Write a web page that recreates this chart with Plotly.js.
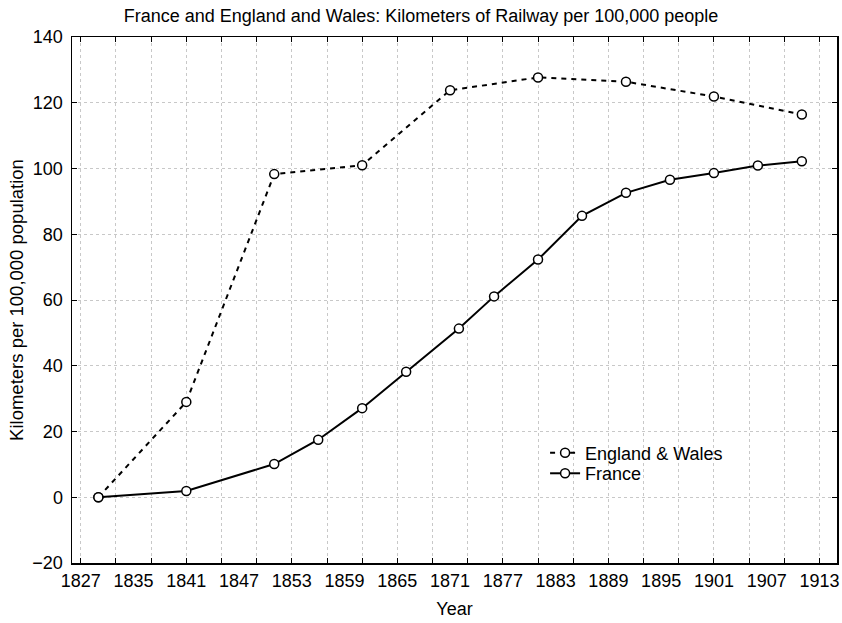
<!DOCTYPE html>
<html>
<head>
<meta charset="utf-8">
<script src="https://cdn.plot.ly/plotly-3.0.1.min.js"></script>
<style>html,body{margin:0;padding:0;background:#fff;}#chart{width:842px;height:623px;}</style>
</head>
<body>
<div id="chart"></div>
<script>
// Data
var ewYears = [1831, 1841, 1851, 1861, 1871, 1881, 1891, 1901, 1911];
var ewValues = [0, 29.0, 98.3, 101.0, 123.8, 127.7, 126.4, 121.9, 116.4];

var frYears = [1831, 1841, 1851, 1856, 1861, 1866, 1872, 1876, 1881, 1886, 1891, 1896, 1901, 1906, 1911];
var frValues = [0, 1.9, 10.1, 17.5, 27.1, 38.2, 51.3, 61.1, 72.3, 85.6, 92.6, 96.6, 98.6, 100.9, 102.2];

// tick marks / grid every 4 years, labels every 6 years (as printed in the source)
var gridYears = [1829, 1833, 1837, 1841, 1845, 1849, 1853, 1857, 1861, 1865, 1869, 1873, 1877, 1881, 1885, 1889, 1893, 1897, 1901, 1905, 1909, 1913];
var labelPos = [1829, 1835, 1841, 1847, 1853, 1859, 1865, 1871, 1877, 1883, 1889, 1895, 1901, 1907, 1913];
var labelText = ['1827', '1835', '1841', '1847', '1853', '1859', '1865', '1871', '1877', '1883', '1889', '1895', '1901', '1907', '1913'];
var yTicks = [-20, 0, 20, 40, 60, 80, 100, 120, 140];

var FONT = 'Liberation Sans, Arial, sans-serif';
var marker = {symbol: 'circle', size: 9, color: '#ffffff', line: {color: '#000000', width: 1.5}};

var traces = [
  {x: ewYears, y: ewValues, name: 'England &amp; Wales', type: 'scatter', mode: 'lines+markers',
   line: {color: '#000000', width: 2, dash: '5px,5px'}, marker: marker, xaxis: 'x', yaxis: 'y', legend: 'legend'},
  {x: frYears, y: frValues, name: 'France', type: 'scatter', mode: 'lines+markers',
   line: {color: '#000000', width: 2}, marker: marker, xaxis: 'x', yaxis: 'y', legend: 'legend2'}
];

var legendBase = {xanchor: 'left', yanchor: 'middle', bgcolor: 'rgba(255,255,255,0)',
                  font: {size: 18, family: FONT}, itemwidth: 30, borderwidth: 0};

var layout = {
  width: 842, height: 623,
  margin: {l: 72.3, r: 5.3, t: 36.7, b: 60.3},
  paper_bgcolor: '#ffffff', plot_bgcolor: '#ffffff',
  font: {family: FONT, color: '#000000', size: 18},
  title: {text: 'France and England and Wales: Kilometers of Railway per 100,000 people',
          x: 0.5, xanchor: 'center', y: 0.975, yanchor: 'middle', font: {size: 18, family: FONT}},
  showlegend: true,
  legend: Object.assign({}, legendBase, {x: 0.6184, y: 0.2091}),
  legend2: Object.assign({}, legendBase, {x: 0.6184, y: 0.170}),
  xaxis: {range: [1828, 1915], tickmode: 'array', tickvals: gridYears, showticklabels: false,
          ticks: 'inside', ticklen: 5, tickcolor: '#000', tickwidth: 1,
          showline: true, linecolor: '#000', linewidth: 1.5, mirror: 'ticks',
          showgrid: true, gridcolor: '#c8c8c8', griddash: 'dot', gridwidth: 1, zeroline: false,
          title: {text: ''}},
  xaxis2: {range: [1828, 1915], overlaying: 'x', anchor: 'y', side: 'bottom',
           tickmode: 'array', tickvals: labelPos, ticktext: labelText, ticks: '',
           showline: false, showgrid: false, zeroline: false,
           tickfont: {size: 18, family: FONT}, ticklabelstandoff: 5,
           title: {text: 'Year', font: {size: 18, family: FONT}, standoff: 12}},
  yaxis: {range: [-20, 140], tickmode: 'array', tickvals: yTicks,
          ticks: 'inside', ticklen: 5, tickcolor: '#000', tickwidth: 1,
          showline: true, linecolor: '#000', linewidth: 1.5, mirror: 'ticks',
          showgrid: true, gridcolor: '#c8c8c8', griddash: 'dot', gridwidth: 1, zeroline: false,
          tickfont: {size: 18, family: FONT}, ticklabelstandoff: 4,
          title: {text: 'Kilometers per 100,000 population', font: {size: 18.5, family: FONT}, standoff: 4}}
};

// invisible trace to activate the label axis
traces.push({x: [1828], y: [null], xaxis: 'x2', yaxis: 'y', showlegend: false, hoverinfo: 'skip', mode: 'markers', type: 'scatter'});

Plotly.newPlot('chart', traces, layout, {displayModeBar: false, staticPlot: true});
</script>
</body>
</html>
